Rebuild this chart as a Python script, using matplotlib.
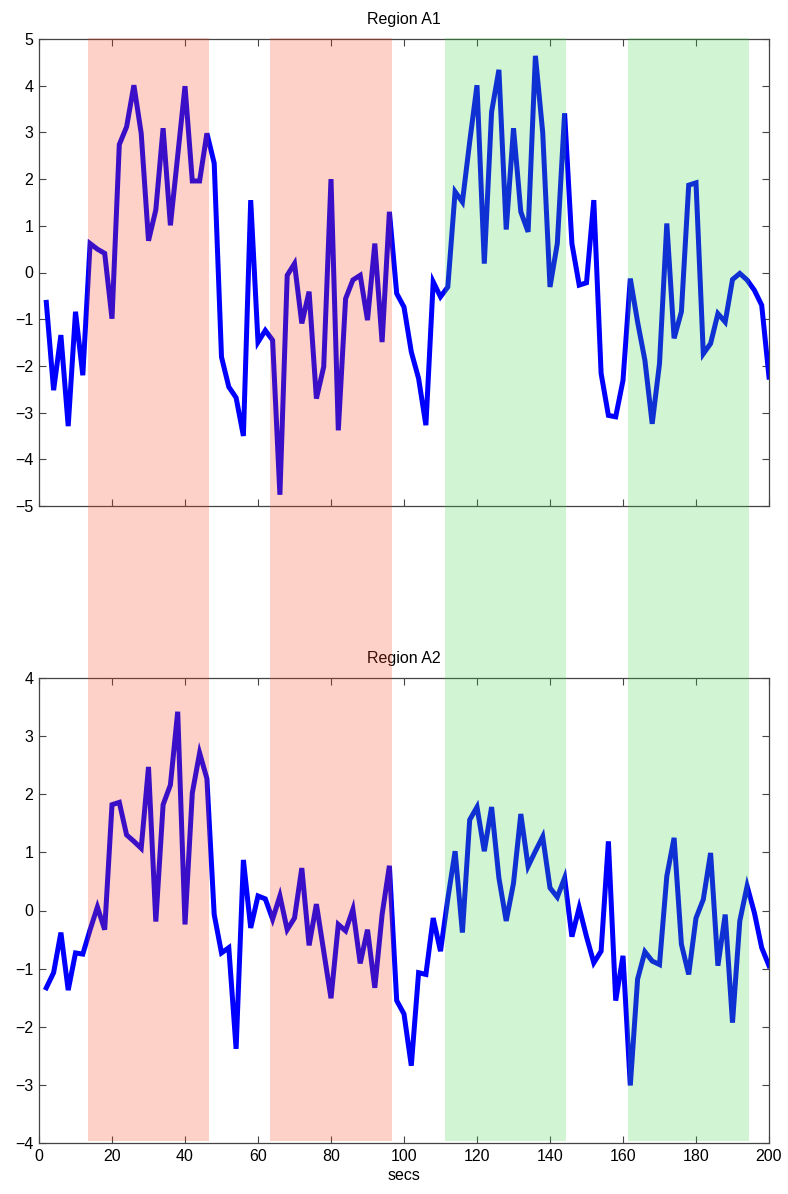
import numpy as np
import matplotlib
matplotlib.use("Agg")
import matplotlib.pyplot as plt
from matplotlib.patches import Rectangle
from matplotlib.transforms import blended_transform_factory

plt.rcParams["font.family"] = ["Liberation Sans", "DejaVu Sans"]

# time axis: one sample every 2 s
secs = np.arange(2, 201, 2)

region_a1 = [
    -0.64, -2.52, -1.34, -3.29, -0.84, -2.20, 0.62, 0.50, 0.41, -0.99,
    2.74, 3.12, 4.01, 2.98, 0.68, 1.34, 3.09, 1.01, 2.50, 3.99,
    1.96, 1.96, 2.98, 2.34, -1.81, -2.45, -2.68, -3.50, 1.55, -1.49,
    -1.24, -1.45, -4.76, -0.06, 0.19, -1.09, -0.41, -2.70, -2.02, 2.00,
    -3.38, -0.56, -0.16, -0.06, -1.02, 0.62, -1.49, 1.30, -0.45, -0.74,
    -1.70, -2.27, -3.27, -0.20, -0.52, -0.31, 1.73, 1.51, 2.80, 4.01,
    0.19, 3.44, 4.34, 0.92, 3.09, 1.30, 0.87, 4.64, 3.00, -0.31,
    0.62, 3.41, 0.62, -0.27, -0.22, 1.55, -2.16, -3.06, -3.09, -2.31,
    -0.13, -1.06, -1.88, -3.24, -1.95, 1.05, -1.41, -0.84, 1.87, 1.92,
    -1.74, -1.52, -0.88, -1.06, -0.15, -0.02, -0.16, -0.38, -0.70, -2.24,
]

region_a2 = [
    -1.33, -1.07, -0.38, -1.37, -0.73, -0.75, -0.33, 0.06, -0.33, 1.82,
    1.86, 1.30, 1.19, 1.07, 2.47, -0.19, 1.82, 2.16, 3.42, -0.24,
    2.02, 2.71, 2.27, -0.07, -0.73, -0.64, -2.38, 0.87, -0.30, 0.25,
    0.20, -0.15, 0.25, -0.33, -0.13, 0.73, -0.60, 0.11, -0.70, -1.51,
    -0.24, -0.35, 0.02, -0.91, -0.33, -1.33, -0.07, 0.77, -1.55, -1.78,
    -2.67, -1.07, -1.10, -0.13, -0.70, 0.20, 1.02, -0.38, 1.56, 1.78,
    1.02, 1.78, 0.56, -0.18, 0.47, 1.66, 0.76, 1.02, 1.27, 0.39,
    0.23, 0.56, -0.45, 0.05, -0.45, -0.90, -0.70, 1.19, -1.55, -0.78,
    -3.01, -1.18, -0.71, -0.87, -0.93, 0.59, 1.25, -0.58, -1.10, -0.13,
    0.19, 0.99, -0.95, -0.07, -1.93, -0.18, 0.42, -0.04, -0.64, -0.95,
]

# condition blocks (start, end) in seconds
red_blocks = [(13.3, 46.6), (63.3, 96.6)]
green_blocks = [(111.3, 144.4), (161.3, 194.6)]

W, H = 788, 1194
fig = plt.figure(figsize=(W / 100, H / 100), dpi=100)

ax1 = fig.add_axes([39 / W, 1 - 506 / H, 730 / W, 467 / H])
ax2 = fig.add_axes([39 / W, 1 - 1143 / H, 730 / W, 465 / H])

for ax, y, title, ylim, yticks in [
    (ax1, region_a1, "Region A1", (-5, 5), range(-5, 6)),
    (ax2, region_a2, "Region A2", (-4, 4), range(-4, 5)),
]:
    ax.plot(secs, y, color="#0000ff", lw=3.6, solid_joinstyle="miter")
    ax.set_xlim(0, 200)
    ax.set_ylim(*ylim)
    ax.set_yticks(list(yticks))
    ax.set_xticks(range(0, 201, 20))
    ax.set_title(title, fontsize=11.5, pad=11)
    ax.tick_params(direction="in", length=5, width=0.8, color="#444444",
                   top=True, right=True, labelsize=11.5, pad=4)
    for sp in ax.spines.values():
        sp.set_color("#444444")
        sp.set_linewidth(0.9)

ax1.set_xticklabels([])
ax2.set_xlabel("secs", fontsize=11.5, labelpad=3)

# shaded blocks span both panels and the gap between them
trans = blended_transform_factory(ax1.transData, fig.transFigure)
y0 = 1 - 1141 / H
y1 = 1 - 38 / H
for a, b in red_blocks:
    fig.add_artist(Rectangle((a, y0), b - a, y1 - y0, transform=trans,
                             facecolor=(0.97, 0.25, 0.09), alpha=0.24,
                             edgecolor="none", zorder=5))
for a, b in green_blocks:
    fig.add_artist(Rectangle((a, y0), b - a, y1 - y0, transform=trans,
                             facecolor=(0.25, 0.82, 0.29), alpha=0.24,
                             edgecolor="none", zorder=5))

fig.savefig("out.png", dpi=100)
